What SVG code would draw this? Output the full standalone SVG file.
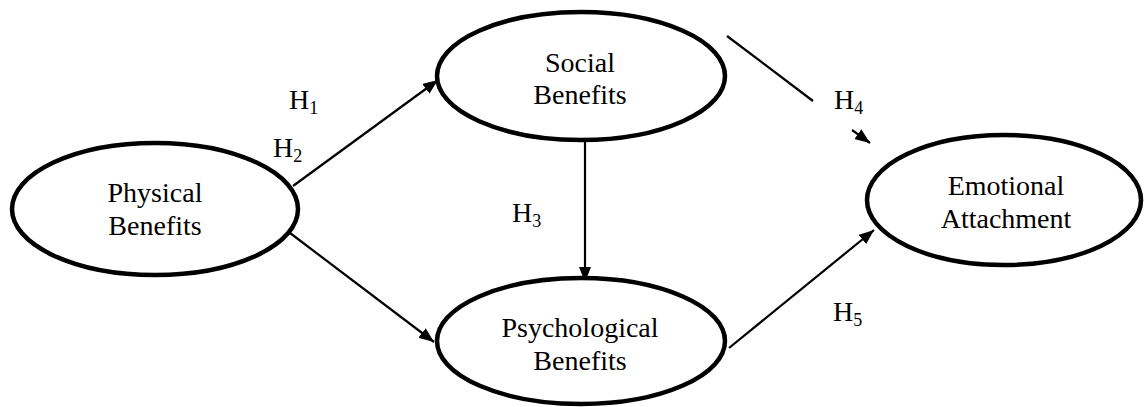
<svg xmlns="http://www.w3.org/2000/svg" width="1144" height="407" viewBox="0 0 1144 407">
<defs>
<marker id="arr" markerUnits="userSpaceOnUse" markerWidth="16" markerHeight="12" refX="15" refY="6" orient="auto">
<path d="M0,0 L15,6 L0,12 z" fill="#000"/>
</marker>
<style>
.node{fill:#fff;stroke:#000;stroke-width:4.5}
.lbl{font-family:"Liberation Serif","Times New Roman",serif;font-size:28px;fill:#000;text-anchor:middle}
.h{font-family:"Liberation Serif","Times New Roman",serif;font-size:28px;fill:#000}
.sub{font-size:18px}
.edge{stroke:#000;stroke-width:2.2;fill:none}
</style>
</defs>
<rect width="1144" height="407" fill="#fff"/>
<g id="connectors">
<line class="edge" x1="293" y1="186" x2="438" y2="80" marker-end="url(#arr)"/>
<line class="edge" x1="290" y1="233" x2="434" y2="342" marker-end="url(#arr)"/>
<line class="edge" x1="585" y1="141" x2="585" y2="282" marker-end="url(#arr)"/>
<line class="edge" x1="727" y1="36" x2="813" y2="101"/>
<line class="edge" x1="852" y1="130" x2="870" y2="143" marker-end="url(#arr)"/>
<line class="edge" x1="729" y1="348" x2="874" y2="230" marker-end="url(#arr)"/>
</g>
<g id="physical">
<ellipse class="node" cx="155" cy="209" rx="143" ry="66"/>
<text class="lbl" x="155" y="202">Physical</text>
<text class="lbl" x="155" y="235">Benefits</text>
</g>
<g id="social">
<ellipse class="node" cx="581" cy="76" rx="144" ry="64"/>
<text class="lbl" x="580" y="72">Social</text>
<text class="lbl" x="580" y="104">Benefits</text>
</g>
<g id="psychological">
<ellipse class="node" cx="581" cy="341" rx="144" ry="63"/>
<text class="lbl" x="580" y="337">Psychological</text>
<text class="lbl" x="580" y="370">Benefits</text>
</g>
<g id="emotional">
<ellipse class="node" cx="1004" cy="200" rx="137" ry="65"/>
<text class="lbl" x="1006" y="195">Emotional</text>
<text class="lbl" x="1006" y="228">Attachment</text>
</g>
<g id="labels">
<text class="h" x="289" y="109">H<tspan class="sub" dy="5">1</tspan></text>
<text class="h" x="273" y="157">H<tspan class="sub" dy="5">2</tspan></text>
<text class="h" x="512" y="222">H<tspan class="sub" dy="5">3</tspan></text>
<text class="h" x="834" y="109">H<tspan class="sub" dy="5">4</tspan></text>
<text class="h" x="833" y="321">H<tspan class="sub" dy="5">5</tspan></text>
</g>
</svg>
